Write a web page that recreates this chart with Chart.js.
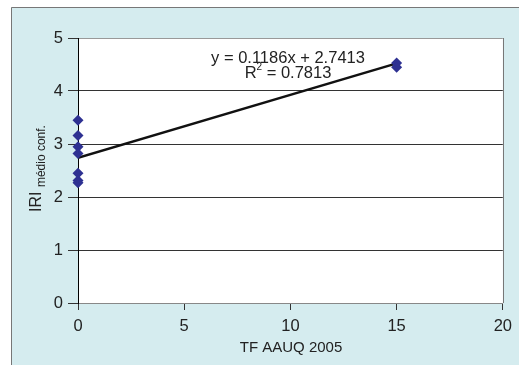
<!DOCTYPE html>
<html>
<head>
<meta charset="utf-8">
<script src="https://cdn.jsdelivr.net/npm/chart.js@4.4.1/dist/chart.umd.min.js"></script>
<style>
    body { margin: 0; background: #fff; }
    #wrap { width: 519px; height: 367px; }
</style>
</head>
<body>
<div id="wrap"><canvas id="chart" width="519" height="367"></canvas></div>
<script>
// Data
const pointX = [0, 0, 0, 0, 0, 0, 0, 15, 15];
const pointY = [3.45, 3.16, 2.95, 2.82, 2.45, 2.31, 2.27, 4.53, 4.45];

// Linear trendline (y = 0.1186x + 2.7413), endpoints
const trendX = [0, 15];
const trendY = [2.7413, 4.5203];

const xTicks = [0, 5, 10, 15, 20];
const yTicks = [0, 1, 2, 3, 4, 5];

const FONT = '"Liberation Sans", Arial, sans-serif';
const BG = '#d5ecef';

// Background frame, equation and axis titles
const decorPlugin = {
    id: 'decor',
    beforeDraw(chart) {
        const ctx = chart.ctx;
        const a = chart.chartArea;
        ctx.save();
        ctx.fillStyle = '#fff';
        ctx.fillRect(0, 0, chart.width, chart.height);
        ctx.fillStyle = BG;
        ctx.fillRect(11, 7, chart.width - 11, 358);
        ctx.strokeStyle = '#777';
        ctx.lineWidth = 1;
        ctx.beginPath();
        ctx.moveTo(11.5, 365);
        ctx.lineTo(11.5, 7.5);
        ctx.lineTo(chart.width, 7.5);
        ctx.stroke();
        ctx.fillStyle = '#fff';
        ctx.fillRect(a.left, a.top, a.right - a.left, a.bottom - a.top);
        ctx.restore();
    },
    afterDraw(chart) {
        const ctx = chart.ctx;
        const a = chart.chartArea;
        ctx.save();
        // right edge of plot area
        ctx.strokeStyle = '#777';
        ctx.lineWidth = 1;
        ctx.beginPath();
        ctx.moveTo(Math.round(a.right) + 0.5, a.top);
        ctx.lineTo(Math.round(a.right) + 0.5, a.bottom);
        ctx.stroke();

        // trendline equation
        ctx.fillStyle = '#222';
        ctx.textAlign = 'center';
        ctx.textBaseline = 'alphabetic';
        ctx.font = '16.5px ' + FONT;
        ctx.fillText('y = 0.1186x + 2.7413', 288, 63);
        ctx.textAlign = 'left';
        const w1 = ctx.measureText('R').width;
        ctx.font = '10px ' + FONT;
        const w2 = ctx.measureText('2').width;
        ctx.font = '16.5px ' + FONT;
        const w3 = ctx.measureText(' = 0.7813').width;
        let sx = 288 - (w1 + w2 + w3) / 2;
        ctx.fillText('R', sx, 78);
        ctx.font = '10px ' + FONT;
        ctx.fillText('2', sx + w1, 70);
        ctx.font = '16.5px ' + FONT;
        ctx.fillText(' = 0.7813', sx + w1 + w2, 78);

        // x axis title
        ctx.textAlign = 'center';
        ctx.font = '15px ' + FONT;
        ctx.fillText('TF AAUQ 2005', 291, 352);

        // y axis title with subscript
        ctx.translate(41, 212);
        ctx.rotate(-Math.PI / 2);
        ctx.textAlign = 'left';
        ctx.font = '16px ' + FONT;
        ctx.fillText('IRI', 0, 0);
        const iw = ctx.measureText('IRI ').width;
        ctx.font = '12px ' + FONT;
        ctx.fillText('médio conf.', iw, 4);
        ctx.restore();
    }
};

const ctx = document.getElementById('chart');

new Chart(ctx, {
    type: 'scatter',
    data: {
        datasets: [
            {
                label: 'IRI',
                data: pointX.map((x, i) => ({ x: x, y: pointY[i] })),
                pointStyle: 'rectRot',
                pointRadius: 5.5,
                backgroundColor: '#2e3192',
                borderColor: '#2e3192',
                borderWidth: 0,
                clip: false
            },
            {
                label: 'Linear',
                type: 'line',
                data: trendX.map((x, i) => ({ x: x, y: trendY[i] })),
                borderColor: '#111',
                borderWidth: 2.5,
                pointRadius: 0,
                fill: false
            }
        ]
    },
    options: {
        responsive: false,
        animation: false,
        layout: {
            padding: { top: 38, right: 16, left: 0, bottom: 0 }
        },
        plugins: {
            legend: { display: false },
            tooltip: { enabled: false }
        },
        scales: {
            x: {
                type: 'linear',
                min: 0,
                max: 20,
                afterBuildTicks(scale) {
                    scale.ticks = xTicks.map(v => ({ value: v }));
                },
                afterFit(scale) {
                    scale.height = 64;
                },
                border: { color: '#888', width: 1 },
                grid: {
                    drawOnChartArea: false,
                    drawTicks: true,
                    tickLength: 7,
                    tickColor: '#333'
                },
                ticks: {
                    color: '#222',
                    padding: 7,
                    maxRotation: 0,
                    font: { family: FONT, size: 16.5 }
                }
            },
            y: {
                min: 0,
                max: 5,
                afterBuildTicks(scale) {
                    scale.ticks = yTicks.map(v => ({ value: v }));
                },
                afterFit(scale) {
                    scale.width = 78;
                },
                border: { color: '#000', width: 1 },
                grid: {
                    color: c => (c.tick && (c.tick.value === 5 || c.tick.value === 0)) ? '#999' : '#333',
                    tickColor: '#333',
                    tickLength: 10,
                    lineWidth: 1
                },
                ticks: {
                    color: '#222',
                    padding: 5,
                    font: { family: FONT, size: 16.5 }
                }
            }
        }
    },
    plugins: [decorPlugin]
});
</script>
</body>
</html>
